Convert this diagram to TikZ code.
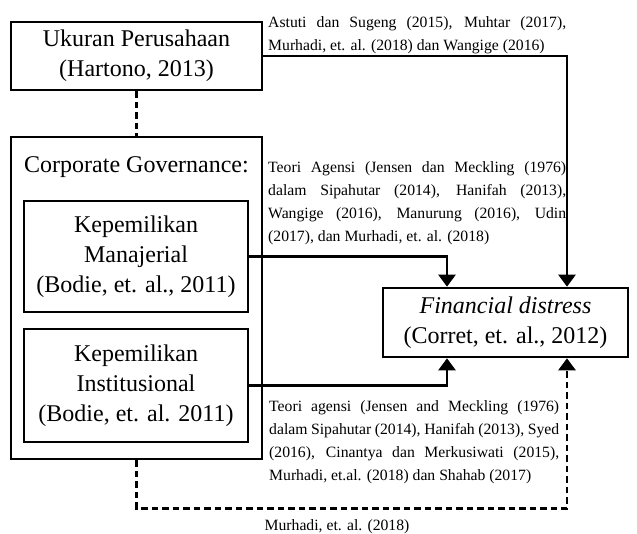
\documentclass[tikz,border=0pt]{standalone}
\usepackage{fontspec}
\setmainfont{Liberation Serif}
\usetikzlibrary{arrows.meta}
\newcommand{\bigtxt}{\fontsize{24}{30}\selectfont}
\newcommand{\smalltxt}{\fontsize{15.7}{23}\selectfont}
\newcommand{\jline}[2]{\makebox[#1][s]{#2}}
\begin{document}
\begin{tikzpicture}[x=1pt,y=-1pt,
		varbox/.style={draw, line width=2.6pt, align=center, font=\bigtxt, inner sep=0pt},
		cite/.style={font=\smalltxt, align=left, inner sep=0pt, anchor=west},
		arr/.style={line width=2.4pt, -{Triangle[width=17pt,length=12pt]}},
		dashedline/.style={line width=2.6pt, dash pattern=on 6.5pt off 4pt}]
		\useasboundingbox (0,0) rectangle (637,534);
		% variables
		\node[varbox, minimum width=251pt, minimum height=68pt] (ukuran) at (136.5,56) {Ukuran Perusahaan\\(Hartono, 2013)};
		\node[varbox, minimum width=251pt, minimum height=322pt] (cg) at (136.5,298) {};
		\node[font=\bigtxt, inner sep=0pt] (cglabel) at (136.5,167) {Corporate Governance:};
		\node[varbox, minimum width=224pt, minimum height=111pt] (manaj) at (136,256.5) {Kepemilikan\\Manajerial\\(Bodie, et. al., 2011)};
		\node[varbox, minimum width=224pt, minimum height=113pt] (inst) at (136,385.5) {Kepemilikan\\Institusional\\(Bodie, et. al. 2011)};
		\node[varbox, minimum width=245pt, minimum height=69pt] (fin) at (505.5,322.5) {\textit{Financial distress}\\(Corret, et. al., 2012)};
		% connectors
		\draw[arr] (ukuran.east) -| ([xshift=61.5pt]fin.north);
		\draw[arr] (manaj.east) -| ([xshift=-58.5pt]fin.north);
		\draw[arr] (inst.east) -| ([xshift=-58.5pt]fin.south);
		\draw[dashedline] (ukuran.south) -- (cg.north);
		\draw[dashedline, -{Triangle[width=17pt,length=12pt]}] (cg.south) -- ++(0,48) coordinate (turn) -| ([xshift=61.5pt]fin.south);
		% references
		\node[cite] (citetop) at (268,35) {\jline{298pt}{Astuti dan Sugeng (2015), Muhtar (2017),}\\Murhadi, et. al. (2018) dan Wangige (2016)};
		\node[cite] (citemid) at (268,203) {\jline{298pt}{Teori Agensi (Jensen dan Meckling (1976)}\\\jline{298pt}{dalam Sipahutar (2014), Hanifah (2013),}\\\jline{298pt}{Wangige (2016), Manurung (2016), Udin}\\(2017), dan Murhadi, et. al. (2018)};
		\node[cite] (citebot) at (269,442) {\jline{290pt}{Teori agensi (Jensen and Meckling (1976)}\\\jline{290pt}{dalam Sipahutar (2014), Hanifah (2013), Syed}\\\jline{290pt}{(2016), Cinantya dan Merkusiwati (2015),}\\Murhadi, et.al. (2018) dan Shahab (2017)};
		\node[font=\smalltxt, inner sep=0pt] (citelow) at (337,527) {Murhadi, et. al. (2018)};
	\end{tikzpicture}
\end{document}
